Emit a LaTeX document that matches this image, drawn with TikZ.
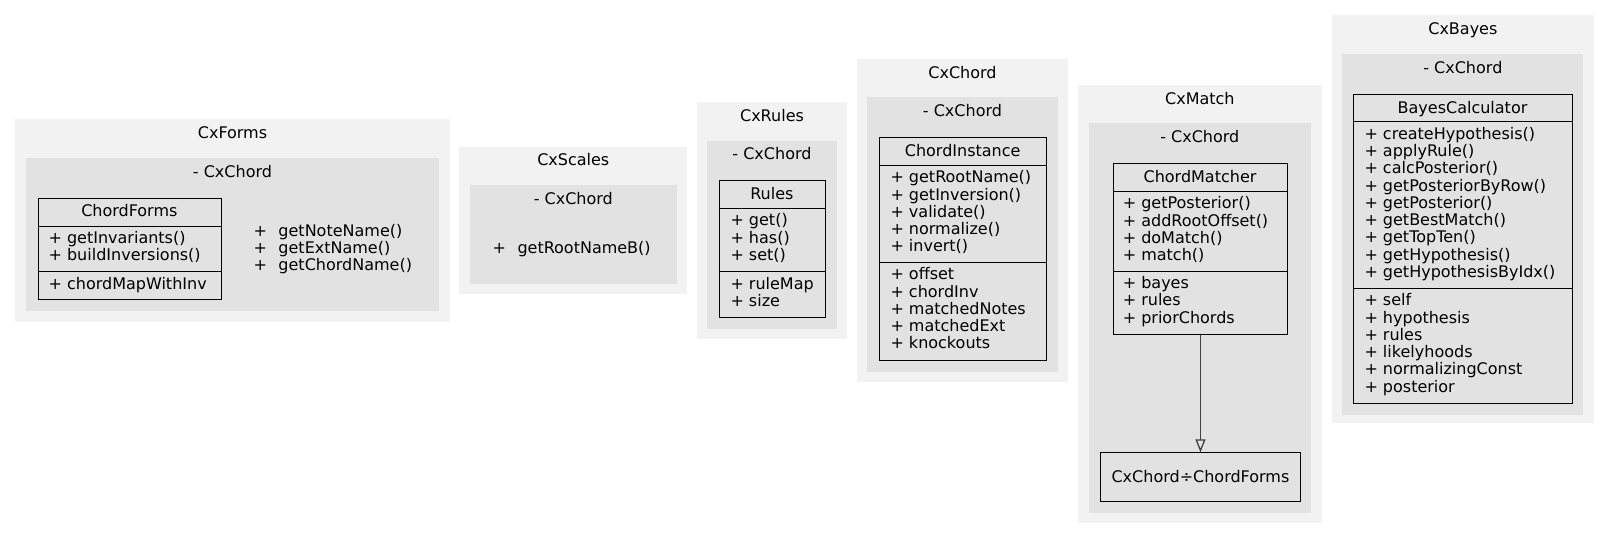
\documentclass[tikz,border=0pt]{standalone}
\usepackage{fontspec}
\setmainfont{DejaVu Sans}
\usetikzlibrary{arrows.meta}
\definecolor{pkgouter}{HTML}{F2F2F2}
\definecolor{pkginner}{HTML}{E2E2E2}
\definecolor{edgegray}{HTML}{404040}
\begin{document}
\begin{tikzpicture}[x=1pt, y=-1pt,
  every node/.style={font=\fontsize{16}{17.25}\selectfont, inner sep=0pt},
  pkg/.style={fill=pkgouter},
  subpkg/.style={fill=pkginner},
  pkgtitle/.style={anchor=base},
  classbox/.style={draw, line width=0.9pt, anchor=north west},
  sepline/.style={line width=0.9pt},
  members/.style={anchor=north west, align=left},
]
\fill[white] (0,0) rectangle (1609,539);
% CxForms package
\fill[pkg] (15,119) rectangle (450,322);
\fill[subpkg] (26,158) rectangle (439,311);
\node[pkgtitle] (forms-title) at (232.5,138.2) {CxForms};
\node[pkgtitle] (forms-sub) at (232.5,177.1) {- CxChord};
\node[classbox, minimum width=183.3pt, minimum height=101.6pt] (forms) at (37.7,197.7) {};
\draw[sepline] (37.7,226) -- (221,226);
\draw[sepline] (37.7,271.7) -- (221,271.7);
\node[pkgtitle] (forms-name) at (129.35,216.7) {ChordForms};
\node[members] (forms-ops) at (48.4,231.3) {+ getInvariants()\\+ buildInversions()};
\node[members] (forms-attrs) at (48.4,277) {+ chordMapWithInv};
\node[members] (forms-free) at (253.4,223.8) {+\hspace{11.5pt}getNoteName()\\+\hspace{11.5pt}getExtName()\\+\hspace{11.5pt}getChordName()};
% CxScales package
\fill[pkg] (459.3,146.7) rectangle (687.3,294);
\fill[subpkg] (470,185) rectangle (676.7,284);
\node[pkgtitle] (scales-title) at (573.3,165.9) {CxScales};
\node[pkgtitle] (scales-sub) at (573.3,204.1) {- CxChord};
\node[members] (scales-free) at (492.4,241.3) {+\hspace{11.5pt}getRootNameB()};
% CxRules package
\fill[pkg] (696.7,102.3) rectangle (847.3,339);
\fill[subpkg] (707.3,140.7) rectangle (836.7,329);
\node[pkgtitle] (rules-title) at (772,121.5) {CxRules};
\node[pkgtitle] (rules-sub) at (772,159.8) {- CxChord};
\node[classbox, minimum width=106.3pt, minimum height=137.3pt] (rules) at (718.7,180) {};
\draw[sepline] (718.7,208.3) -- (825,208.3);
\draw[sepline] (718.7,271.7) -- (825,271.7);
\node[pkgtitle] (rules-name) at (771.85,199) {Rules};
\node[members] (rules-ops) at (730.3,213.6) {+ get()\\+ has()\\+ set()};
\node[members] (rules-attrs) at (730.3,277) {+ ruleMap\\+ size};
% CxChord package
\fill[pkg] (856.7,59) rectangle (1068.3,382.3);
\fill[subpkg] (867.3,97.3) rectangle (1058,371.7);
\node[pkgtitle] (chord-title) at (962.5,78.2) {CxChord};
\node[pkgtitle] (chord-sub) at (962.5,116.4) {- CxChord};
\node[classbox, minimum width=167.3pt, minimum height=222.7pt] (instance) at (879,137.3) {};
\draw[sepline] (879,165.3) -- (1046.3,165.3);
\draw[sepline] (879,262.3) -- (1046.3,262.3);
\node[pkgtitle] (instance-name) at (962.65,156.3) {ChordInstance};
\node[members] (instance-ops) at (890.3,170.6) {+ getRootName()\\+ getInversion()\\+ validate()\\+ normalize()\\+ invert()};
\node[members] (instance-attrs) at (890.3,267.6) {+ offset\\+ chordInv\\+ matchedNotes\\+ matchedExt\\+ knockouts};
% CxMatch package
\fill[pkg] (1078,85) rectangle (1321.7,522.7);
\fill[subpkg] (1089,123.3) rectangle (1311,512.7);
\node[pkgtitle] (match-title) at (1199.85,104.2) {CxMatch};
\node[pkgtitle] (match-sub) at (1199.85,142.4) {- CxChord};
\node[classbox, minimum width=174.6pt, minimum height=170.7pt] (matcher) at (1112.7,163.3) {};
\draw[sepline] (1112.7,191.3) -- (1287.3,191.3);
\draw[sepline] (1112.7,271) -- (1287.3,271);
\node[pkgtitle] (matcher-name) at (1200,182.3) {ChordMatcher};
\node[members] (matcher-ops) at (1122.6,196.6) {+ getPosterior()\\+ addRootOffset()\\+ doMatch()\\+ match()};
\node[members] (matcher-attrs) at (1122.6,276.3) {+ bayes\\+ rules\\+ priorChords};
\node[classbox, minimum width=199.4pt, minimum height=48.4pt] (forms-ref) at (1100.3,452.3) {CxChord÷ChordForms};
\draw[edgegray, line width=1.3pt, -{Triangle[open, length=13pt, width=10pt]}] (matcher.south) -- (forms-ref.north);
% CxBayes package
\fill[pkg] (1331.7,15) rectangle (1594,423.3);
\fill[subpkg] (1341.7,54) rectangle (1583.3,415);
\node[pkgtitle] (bayes-title) at (1462.85,34.2) {CxBayes};
\node[pkgtitle] (bayes-sub) at (1462.85,73.1) {- CxChord};
\node[classbox, minimum width=219.6pt, minimum height=309.3pt] (bayes) at (1352.7,94) {};
\draw[sepline] (1352.7,121.7) -- (1572.3,121.7);
\draw[sepline] (1352.7,288.3) -- (1572.3,288.3);
\node[pkgtitle] (bayes-name) at (1462.5,113) {BayesCalculator};
\node[members] (bayes-ops) at (1364.3,127) {+ createHypothesis()\\+ applyRule()\\+ calcPosterior()\\+ getPosteriorByRow()\\+ getPosterior()\\+ getBestMatch()\\+ getTopTen()\\+ getHypothesis()\\+ getHypothesisByIdx()};
\node[members] (bayes-attrs) at (1364.3,293.6) {+ self\\+ hypothesis\\+ rules\\+ likelyhoods\\+ normalizingConst\\+ posterior};
\end{tikzpicture}
\end{document}
